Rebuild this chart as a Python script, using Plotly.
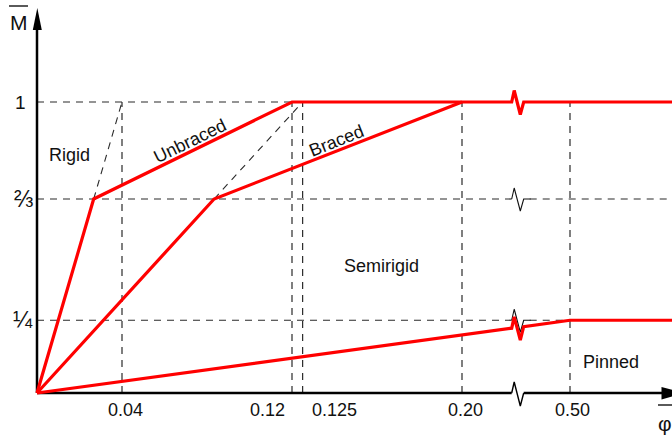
import plotly.graph_objects as go

# ---- classification data: normalised moment M versus normalised rotation phi ----
phi_ticks = [0.04, 0.12, 0.125, 0.20, 0.50]
phi_tick_text = ["0.04", "0.12", "0.125", "0.20", "0.50"]
m_ticks = [1 / 4, 2 / 3, 1.0]
m_tick_text = ["¼", "⅔", "1"]

# boundary between rigid and semirigid, unbraced frames
unbraced_phi = [0.0, 2 / 75, 0.12, 1.0]
unbraced_m = [0.0, 2 / 3, 1.0, 1.0]
# boundary between rigid and semirigid, braced frames
braced_phi = [0.0, 1 / 12, 0.20]
braced_m = [0.0, 2 / 3, 1.0]
# boundary between semirigid and pinned
pinned_phi = [0.0, 0.50, 1.0]
pinned_m = [0.0, 0.25, 0.25]
# initial-stiffness extensions up to M = 1
rigid_ext_phi = [2 / 75, 0.04]
rigid_ext_m = [2 / 3, 1.0]
braced_ext_phi = [1 / 12, 0.125]
braced_ext_m = [2 / 3, 1.0]

zone_labels = ["Rigid", "Unbraced", "Braced", "Semirigid", "Pinned"]

# ---- drawing scale ----
W, H = 672, 436
X0_PX, Y0_PX = 37, 393          # origin in pixels
SX, SY = 2125.0, 291.0          # pixels per unit
X_RANGE = [-X0_PX / SX, (W - X0_PX) / SX]
Y_RANGE = [-(H - Y0_PX) / SY, Y0_PX / SY]

# broken axis: 0.20 .. 0.50 is compressed
BREAK_LO, BREAK_HI = 0.20, 0.50
PHI_050_AXIS = (570 - X0_PX) / SX
COMPRESS = (PHI_050_AXIS - BREAK_LO) / (BREAK_HI - BREAK_LO)


def axis_x(phi):
    if phi <= BREAK_LO:
        return phi
    return BREAK_LO + (phi - BREAK_LO) * COMPRESS


def pix(xp, yp):
    return (xp - X0_PX) / SX, (Y0_PX - yp) / SY


# zig-zag break symbol (pixel offsets)
ZIG_X0 = (511.7 - X0_PX) / SX
ZIG_DX = [0.0, 2.5, 8.6, 12.0]
ZIG_DY = [0.0, 11.5, -12.5, 0.0]
ZIG_X = [ZIG_X0 + d / SX for d in ZIG_DX]
ZIG_X1 = ZIG_X[-1]


def interp(xs, ys, x):
    for i in range(len(xs) - 1):
        if xs[i] <= x <= xs[i + 1]:
            t = (x - xs[i]) / (xs[i + 1] - xs[i])
            return ys[i] + t * (ys[i + 1] - ys[i])
    return ys[-1]


def with_break(xs, ys, dy=ZIG_DY):
    """Insert the zig-zag break into a polyline given in axis coordinates."""
    if xs[-1] < ZIG_X0:
        return xs, ys
    out_x, out_y = [], []
    for x, y in zip(xs, ys):
        if x < ZIG_X0:
            out_x.append(x)
            out_y.append(y)
    for zx, d in zip(ZIG_X, dy):
        out_x.append(zx)
        out_y.append(interp(xs, ys, zx) + d / SY)
    for x, y in zip(xs, ys):
        if x > ZIG_X1:
            out_x.append(x)
            out_y.append(y)
    return out_x, out_y


fig = go.Figure()

DASH = "7px,6px"
GRID = "#2a2a2a"
RED = "#ff0000"
X_END = axis_x(1.0)

# dashed reference lines
for m in m_ticks:
    fig.add_trace(go.Scatter(x=[0, ZIG_X0], y=[m, m], mode="lines",
                             line=dict(color=GRID, width=1.2, dash=DASH)))
    fig.add_trace(go.Scatter(x=[ZIG_X1 + 6 / SX, X_END], y=[m, m], mode="lines",
                             line=dict(color=GRID, width=1.2, dash=DASH)))
    if m < 1:
        zx, zy = with_break([ZIG_X0, ZIG_X1 + 7 / SX], [m, m], dy=[0, 11, -12, 0])
        fig.add_trace(go.Scatter(x=zx, y=zy, mode="lines",
                                 line=dict(color="#111", width=1.1)))
for p in phi_ticks:
    fig.add_trace(go.Scatter(x=[axis_x(p)] * 2, y=[0, 1], mode="lines",
                             line=dict(color=GRID, width=1.2, dash=DASH)))
for ex, ey in ((rigid_ext_phi, rigid_ext_m), (braced_ext_phi, braced_ext_m)):
    fig.add_trace(go.Scatter(x=[axis_x(v) for v in ex], y=ey, mode="lines",
                             line=dict(color=GRID, width=1.1, dash=DASH)))

# axes
fig.add_trace(go.Scatter(x=[0, 0], y=[0, pix(37, 30)[1]], mode="lines",
                         line=dict(color="black", width=2.5)))
fig.add_trace(go.Scatter(x=[0, ZIG_X0], y=[0, 0], mode="lines",
                         line=dict(color="black", width=2.5)))
fig.add_trace(go.Scatter(x=[ZIG_X1, pix(662, 0)[0]], y=[0, 0], mode="lines",
                         line=dict(color="black", width=2.5)))
zx, zy = with_break([ZIG_X0, ZIG_X1], [0, 0], dy=[0, 11, -13, 0])
fig.add_trace(go.Scatter(x=zx, y=zy, mode="lines",
                         line=dict(color="black", width=1.4)))

# classification boundaries
for xs, ys, dy in ((pinned_phi, pinned_m, [0, 11, -13, 0]),
                   (braced_phi, braced_m, ZIG_DY),
                   (unbraced_phi, unbraced_m, ZIG_DY)):
    ax_x = [axis_x(v) for v in xs]
    bx, by = with_break(ax_x, ys, dy=dy)
    fig.add_trace(go.Scatter(x=bx, y=by, mode="lines",
                             line=dict(color=RED, width=3.2)))

shapes = []
# arrow heads
a = [pix(32.8, 30), pix(41.8, 30), pix(37.3, 8)]
shapes.append(dict(type="path", xref="x", yref="y", fillcolor="black",
                   line=dict(color="black", width=0),
                   path="M {} {} L {} {} L {} {} Z".format(*a[0], *a[1], *a[2])))
a = [pix(661.5, 387), pix(661.5, 399.5), pix(684, 393)]
shapes.append(dict(type="path", xref="x", yref="y", fillcolor="black",
                   line=dict(color="black", width=0),
                   path="M {} {} L {} {} L {} {} Z".format(*a[0], *a[1], *a[2])))
# overbars of the axis symbols
for (x1, y1), (x2, y2) in ((pix(9, 6), pix(28, 6)), (pix(658, 405), pix(672, 405))):
    shapes.append(dict(type="line", xref="x", yref="y", x0=x1, y0=y1, x1=x2, y1=y2,
                       line=dict(color="black", width=1.3)))

FONT = "Liberation Sans, Arial, sans-serif"
ann = []
x_shift = [3, -25, 32, 3, 2]
for v, t, s in zip(phi_ticks, phi_tick_text, x_shift):
    ann.append(dict(x=axis_x(v), y=0, text=t, showarrow=False, xshift=s, yshift=-17,
                    font=dict(size=18, color="#111", family=FONT)))
y_shift = [-2, -2, -9]
y_size = [23, 23, 19]
for v, t, s, fs in zip(m_ticks, m_tick_text, y_shift, y_size):
    ann.append(dict(x=0, y=v, text=t, showarrow=False, xanchor="right", xshift=s,
                    font=dict(size=fs, color="#111", family=FONT)))

label_pos = [pix(69, 155), pix(190, 141), pix(336, 141), pix(381, 266), pix(611, 362)]
label_ang = [0, -26, -22, 0, 0]
for t, (lx, ly), ang in zip(zone_labels, label_pos, label_ang):
    ann.append(dict(x=lx, y=ly, text=t, showarrow=False, textangle=ang,
                    font=dict(size=18, color="#111", family=FONT)))

mx, my = pix(18.5, 22)
ann.append(dict(x=mx, y=my, text="M", showarrow=False,
                font=dict(size=21, color="#111", family=FONT)))
px_, py_ = pix(665, 423)
ann.append(dict(x=px_, y=py_, text="φ", showarrow=False,
                font=dict(size=21, color="#111", family=FONT)))

fig.update_layout(
    width=W, height=H,
    margin=dict(l=0, r=0, t=0, b=0),
    paper_bgcolor="white", plot_bgcolor="white",
    showlegend=False,
    xaxis=dict(range=X_RANGE, visible=False, fixedrange=True),
    yaxis=dict(range=Y_RANGE, visible=False, fixedrange=True),
    shapes=shapes,
    annotations=ann,
)

fig.write_html("out.html")
